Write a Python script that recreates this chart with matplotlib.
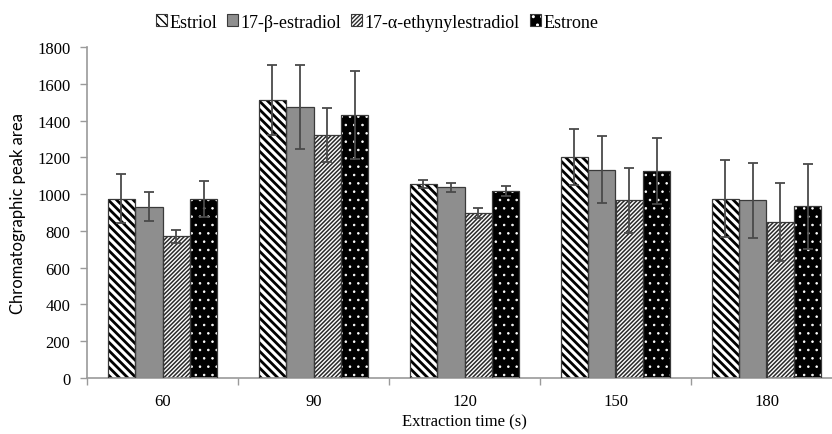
import numpy as np
import matplotlib.pyplot as plt
from matplotlib.patches import Patch

times = ['60', '90', '120', '150', '180']
series = ['Estriol', '17-\u03b2-estradiol', '17-\u03b1-ethynylestradiol', 'Estrone']

estriol = [975, 1510, 1055, 1203, 975]
estriol_err = [133, 190, 22, 152, 210]
beta = [932, 1474, 1037, 1133, 966]
beta_err = [78, 226, 25, 183, 203]
alpha = [770, 1321, 899, 966, 850]
alpha_err = [35, 146, 27, 175, 212]
estrone = [973, 1430, 1017, 1126, 933]
estrone_err = [97, 240, 27, 181, 229]

values = [estriol, beta, alpha, estrone]
errors = [estriol_err, beta_err, alpha_err, estrone_err]

# facecolor, hatch colour, hatch, hatch linewidth
styles = [
    ('white', 'black', '\\\\\\\\', 2.0),
    ('#8e8e8e', '#7a7a7a', None, 0.5),
    ('white', '#2a2a2a', '////////', 1.1),
    ('black', 'white', '..', 0.6),
]

plt.rcParams['font.family'] = ['Liberation Serif', 'DejaVu Serif']

fig = plt.figure(figsize=(8.32, 4.35), dpi=100)
ax = fig.add_axes([87 / 832, 56 / 435, 755 / 832, 331 / 435])

x = np.arange(len(times))
width = 0.182
offsets = (np.arange(4) - 1.5) * width

handles = []
for vals, errs, off, (fc, hc, hatch, hlw), name in zip(values, errors, offsets, styles, series):
    with plt.rc_context({'hatch.linewidth': hlw}):
        bars = ax.bar(x + off, vals, width, color=fc, edgecolor=hc, hatch=hatch,
                      linewidth=0, zorder=2)
        h = Patch(facecolor=fc, edgecolor=hc, hatch=hatch, linewidth=0)
    for b in list(bars) + [h]:
        if hasattr(b, 'set_hatch_linewidth'):
            b.set_hatch_linewidth(hlw)
    ax.bar(x + off, vals, width, fill=False, edgecolor='#3a3a3a', linewidth=0.9, zorder=3)
    ax.errorbar(x + off, vals, yerr=errs, fmt='none', ecolor='#4a4a4a', elinewidth=1.3,
                capsize=3.5, capthick=1.3, zorder=4)
    handles.append((h, Patch(fill=False, edgecolor='#3a3a3a', linewidth=0.8)))

ax.set_xlim(-0.5, len(times) - 0.5)
ax.set_ylim(0, 1800)
ax.set_yticks(np.arange(0, 1801, 200))
ax.set_xticks(x)
ax.set_xticklabels(times)
ax.set_xticks(np.arange(-0.5, len(times), 1), minor=True)
ax.tick_params(axis='x', which='major', length=0, labelsize=12, pad=11)
ax.tick_params(axis='x', which='minor', length=5, color='#9a9a9a', width=1)
ax.tick_params(axis='y', length=5, color='#9a9a9a', width=1, labelsize=12, pad=7)

for side in ('top', 'right'):
    ax.spines[side].set_visible(False)
for side in ('left', 'bottom'):
    ax.spines[side].set_color('#9a9a9a')
    ax.spines[side].set_linewidth(1.2)

ax.set_xlabel('Extraction time (s)', fontsize=12, labelpad=3)
fig.text(18 / 832, 1 - 213 / 435, 'Chromatographic peak area', rotation=90,
         ha='center', va='center', fontsize=12, family=['Lato', 'DejaVu Sans'])

fig.legend(handles, series, loc='center', bbox_to_anchor=(377 / 832, 1 - 23 / 435),
           ncol=4, frameon=False, fontsize=13, handlelength=0.6, handleheight=0.6,
           handletextpad=0.15, columnspacing=0.55, borderpad=0)

fig.savefig('out.png', dpi=100)
